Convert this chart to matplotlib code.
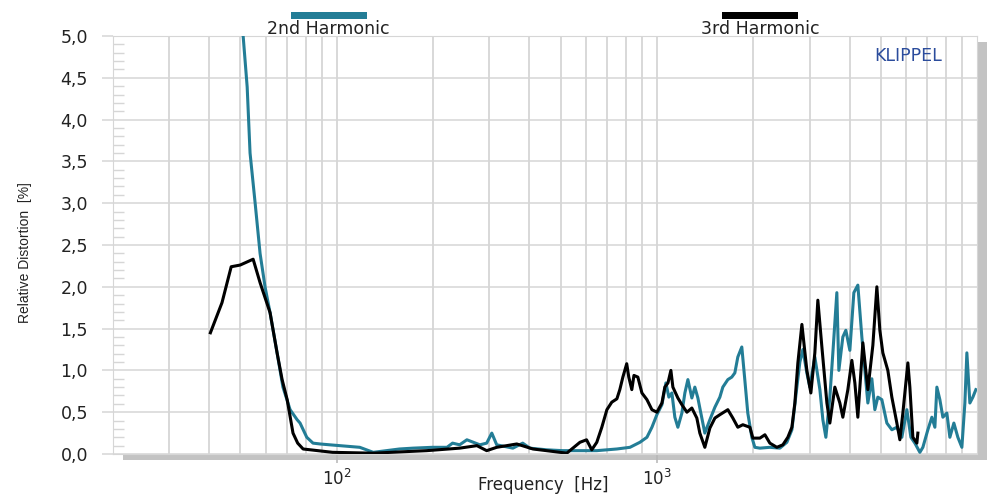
import numpy as np
import matplotlib
matplotlib.use("Agg")
import matplotlib.pyplot as plt
from matplotlib.patches import Rectangle
from matplotlib.ticker import LogLocator, MultipleLocator, NullFormatter

# 2nd harmonic distortion [%] vs frequency [Hz]
h2_freq = [49.5, 51, 52.5, 53.6, 55.6, 57.6, 59.7, 61.9, 65.1, 67.9, 71.5, 75.2, 76.8, 80.6, 84.3,
           88.7, 95, 118, 130, 157, 173, 199, 221, 230, 242, 255, 280, 294, 305, 316, 355, 381,
           401, 453, 508, 649, 750, 824, 885, 931, 965, 1000, 1037, 1067, 1090, 1114, 1138, 1163,
           1197, 1223, 1250, 1286, 1314, 1343, 1362, 1412, 1464, 1518, 1573, 1607, 1666, 1714,
           1752, 1790, 1842, 1882, 1923, 1980, 2023, 2098, 2254, 2422, 2547, 2641, 2737, 2797,
           2858, 2941, 3005, 3115, 3230, 3300, 3372, 3470, 3546, 3649, 3702, 3810, 3893, 4007,
           4124, 4244, 4368, 4464, 4561, 4694, 4796, 4901, 5044, 5229, 5420, 5619, 5825, 6038,
           6215, 6396, 6630, 6775, 7023, 7228, 7386, 7493, 7656, 7823, 8051, 8227, 8467, 8714,
           8969, 9165, 9297, 9500, 9707, 9919]
h2_dist = [5.6, 5.0, 4.39, 3.6, 3.0, 2.4, 2.0, 1.69, 1.21, 0.80, 0.53, 0.41, 0.37, 0.20, 0.13,
           0.12, 0.11, 0.08, 0.02, 0.06, 0.07, 0.08, 0.08, 0.13, 0.11, 0.17, 0.11, 0.13, 0.25, 0.11,
           0.07, 0.13, 0.07, 0.05, 0.04, 0.04, 0.06, 0.08, 0.14, 0.20, 0.32, 0.47, 0.59, 0.85, 0.68,
           0.73, 0.44, 0.32, 0.49, 0.73, 0.89, 0.67, 0.80, 0.67, 0.55, 0.25, 0.41, 0.56, 0.68, 0.80,
           0.89, 0.92, 0.97, 1.16, 1.28, 0.89, 0.49, 0.20, 0.08, 0.07, 0.08, 0.07, 0.14, 0.29, 0.80,
           1.10, 1.25, 0.97, 0.80, 1.16, 0.77, 0.41, 0.20, 0.68, 1.21, 1.93, 1.00, 1.40, 1.48, 1.24,
           1.93, 2.02, 1.40, 1.00, 0.61, 0.90, 0.53, 0.68, 0.65, 0.37, 0.29, 0.32, 0.20, 0.53, 0.20,
           0.13, 0.02, 0.08, 0.29, 0.44, 0.32, 0.80, 0.65, 0.44, 0.49, 0.20, 0.37, 0.20, 0.08, 0.61,
           1.21, 0.61, 0.68, 0.77]

# 3rd harmonic distortion [%] vs frequency [Hz]
h3_freq = [40.3, 43.8, 46.8, 49.9, 54.8, 57.6, 61.9, 65.1, 67.5, 70.0, 73.0, 75.5, 78.5, 97, 130,
           191, 242, 274, 294, 316, 365, 410, 523, 575, 603, 626, 649, 673, 698, 723, 750, 766,
           783, 805, 817, 835, 848, 872, 898, 931, 965, 1000, 1037, 1059, 1083, 1106, 1122, 1163,
           1197, 1241, 1286, 1333, 1362, 1412, 1464, 1518, 1573, 1666, 1727, 1790, 1856, 1952,
           1995, 2098, 2175, 2254, 2370, 2475, 2565, 2641, 2698, 2757, 2838, 2941, 3027, 3115,
           3183, 3277, 3397, 3470, 3597, 3729, 3810, 3950, 4065, 4154, 4244, 4400, 4561, 4728,
           4866, 4972, 5080, 5266, 5420, 5619, 5742, 5867, 6082, 6170, 6305, 6488, 6535]
h3_dist = [1.45, 1.81, 2.24, 2.26, 2.33, 2.05, 1.69, 1.21, 0.89, 0.65, 0.25, 0.13, 0.06, 0.02, 0.01,
           0.04, 0.07, 0.10, 0.04, 0.08, 0.12, 0.06, 0.01, 0.14, 0.17, 0.05, 0.14, 0.32, 0.53, 0.62,
           0.66, 0.77, 0.92, 1.08, 0.92, 0.77, 0.94, 0.92, 0.73, 0.65, 0.53, 0.50, 0.61, 0.80, 0.85,
           1.00, 0.80, 0.67, 0.59, 0.50, 0.55, 0.43, 0.25, 0.08, 0.31, 0.43, 0.47, 0.53, 0.43, 0.32,
           0.35, 0.32, 0.19, 0.19, 0.23, 0.13, 0.08, 0.11, 0.20, 0.32, 0.61, 1.09, 1.55, 1.00, 0.73,
           1.21, 1.84, 1.28, 0.61, 0.37, 0.80, 0.61, 0.44, 0.77, 1.12, 0.85, 0.44, 1.33, 0.77, 1.30,
           2.00, 1.48, 1.21, 1.00, 0.68, 0.37, 0.17, 0.49, 1.09, 0.80, 0.20, 0.13, 0.25]

y_ticks = [0.0, 0.5, 1.0, 1.5, 2.0, 2.5, 3.0, 3.5, 4.0, 4.5, 5.0]
y_tick_labels = ["0,0", "0,5", "1,0", "1,5", "2,0", "2,5", "3,0", "3,5", "4,0", "4,5", "5,0"]
x_ticks = [100, 1000]
x_tick_labels = ["$10^2$", "$10^3$"]
series_names = ["2nd Harmonic", "3rd Harmonic"]

TEAL = "#237d96"
GRID = "#d6d6d6"
TXT = "#222222"
W, H = 993.0, 495.0

fig = plt.figure(figsize=(W / 100, H / 100), dpi=100)
ax = fig.add_axes([113 / W, 41 / H, 864 / W, 418 / H])

# grey drop shadow behind the plot area
fig.patches.append(Rectangle((123 / W, 35 / H), 864 / W, 418 / H, transform=fig.transFigure,
                             facecolor="#c3c3c3", edgecolor="none", zorder=-1))

ax.plot(h2_freq, h2_dist, color=TEAL, lw=2.2, zorder=3)
ax.plot(h3_freq, h3_dist, color="black", lw=2.2, zorder=4)

ax.set_xscale("log")
ax.set_xlim(20, 10000)
ax.set_ylim(0, 5)

ax.set_xticks(x_ticks)
ax.set_xticklabels(x_tick_labels)
ax.xaxis.set_minor_locator(LogLocator(base=10, subs=np.arange(2, 10)))
ax.xaxis.set_minor_formatter(NullFormatter())
ax.set_yticks(y_ticks)
ax.set_yticklabels(y_tick_labels)
ax.yaxis.set_minor_locator(MultipleLocator(0.1))

ax.grid(which="both", axis="x", color=GRID, lw=1.3)
ax.grid(which="major", axis="y", color=GRID, lw=1.1)
ax.tick_params(axis="y", which="major", direction="out", length=8, width=1.1, color=GRID,
               pad=10, labelsize=12.5, labelcolor=TXT)
ax.tick_params(axis="y", which="minor", direction="in", length=8, width=1.0, color=GRID)
ax.tick_params(axis="x", which="major", direction="out", length=6.5, width=1.1, color="#b5b5b5",
               pad=4, labelsize=12, labelcolor=TXT)
ax.tick_params(axis="x", which="minor", length=0)
for s in ax.spines.values():
    s.set_color(GRID)

ax.set_xlabel("Frequency  [Hz]", fontsize=12, color=TXT)
ax.xaxis.set_label_coords(0.498, -0.0525)
ax.set_ylabel("Relative Distortion  [%]", fontsize=10, family="Liberation Sans", color=TXT)
ax.yaxis.set_label_coords(-0.094, 0.483)

# legend bars above the plot
fig.patches.append(Rectangle((291 / W, 1 - 19 / H), 76 / W, 7 / H, transform=fig.transFigure,
                             facecolor=TEAL, edgecolor="none"))
fig.patches.append(Rectangle((722 / W, 1 - 19 / H), 76 / W, 7 / H, transform=fig.transFigure,
                             facecolor="black", edgecolor="none"))
fig.text(328 / W, 1 - 29 / H, series_names[0], ha="center", va="center", fontsize=12.5, color=TXT)
fig.text(760 / W, 1 - 29 / H, series_names[1], ha="center", va="center", fontsize=12.5, color=TXT)

fig.text(908 / W, 1 - 56 / H, "KLIPPEL", ha="center", va="center", fontsize=12.5, color="#2b4c9c")

fig.savefig("out.png", dpi=100)
